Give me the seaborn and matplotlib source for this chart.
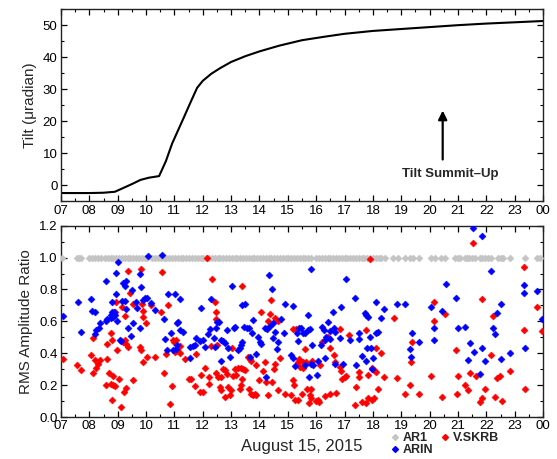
import numpy as np
import pandas as pd
import matplotlib
matplotlib.use("Agg")
import matplotlib.pyplot as plt
from matplotlib.ticker import MultipleLocator, FixedLocator
from matplotlib.lines import Line2D
import seaborn as sns

# ---- tilt record (hours of August 15, 2015; 24 = midnight) ----
tilt_hour = [7.0, 8.0, 8.5, 8.9, 9.2, 9.5, 9.8, 10.1, 10.46, 10.7, 10.92, 11.3,
             11.6, 11.8, 12.0, 12.3, 12.6, 13.0, 13.5, 14.0, 14.7, 15.5, 16.3,
             17.0, 18.0, 19.0, 20.0, 21.0, 22.0, 23.0, 24.0]
tilt_value = [-2.5, -2.5, -2.4, -2.1, -0.9, 0.3, 1.6, 2.3, 2.8, 7.5, 13.0, 20.5,
              26.5, 30.4, 32.6, 34.8, 36.5, 38.5, 40.3, 41.8, 43.6, 45.3, 46.4,
              47.3, 48.2, 48.8, 49.4, 50.0, 50.5, 50.9, 51.3]

# ---- RMS amplitude ratios, reference station AR1 ----
ar1_hour = [7.05, 7.55, 7.62, 7.70,
            8.00, 8.10, 8.20, 8.30, 8.40,
            8.55, 8.65, 8.75, 8.85, 8.95, 9.05, 9.15, 9.25, 9.35, 9.45, 9.55,
            9.65, 9.75, 9.85, 9.95, 10.05,
            10.22, 10.32, 10.42, 10.52, 10.62, 10.72, 10.82, 10.92, 11.02, 11.12,
            11.22, 11.32, 11.42, 11.52, 11.62, 11.72, 11.82, 11.92, 12.02, 12.12,
            12.22, 12.32, 12.42, 12.52, 12.62, 12.72, 12.82, 12.92, 13.02, 13.12,
            13.22, 13.32, 13.42, 13.52, 13.62, 13.72, 13.82, 13.92, 14.02, 14.12,
            14.22, 14.32, 14.42, 14.52, 14.62, 14.72, 14.82, 14.92, 15.02, 15.12,
            15.22, 15.32, 15.42, 15.52, 15.62, 15.72, 15.82,
            16.00, 16.10, 16.20, 16.30, 16.40, 16.50, 16.60, 16.70, 16.80, 16.90,
            17.00, 17.10, 17.18,
            17.30, 17.40, 17.50, 17.60, 17.70, 17.80, 17.90, 18.00, 18.10, 18.20,
            18.30, 18.42,
            18.71, 18.88, 19.12, 19.30, 19.42, 19.62,
            20.06, 20.20, 20.41, 20.53, 20.90, 21.00, 21.06, 21.24, 21.32, 21.40,
            21.50, 21.60, 21.77, 21.85, 21.95, 22.05, 22.18, 22.40, 22.50, 22.60,
            22.83, 23.36, 23.80, 23.90]
ar1_ratio = [1.0] * len(ar1_hour)

# ---- station V.SKRB ----
skrb_hour = [7.07, 7.58, 7.69, 8.12, 8.06, 8.21, 8.36, 8.30, 8.25, 8.12, 8.63, 8.63,
             8.77, 8.80, 8.69, 8.58, 8.75, 8.83, 8.92, 8.85, 9.03, 8.81, 9.13, 9.21,
             9.30, 8.98, 8.89, 8.95, 9.38, 9.45, 9.16, 9.25, 9.27, 9.30, 9.19, 9.36,
             9.54, 9.55, 9.83, 9.86, 9.89, 9.89, 9.99, 9.78, 9.83, 9.89, 10.03, 10.30,
             10.19, 10.56, 10.52, 10.63, 10.90, 10.85, 10.72, 10.76, 10.95, 11.04,
             10.98, 11.10, 11.18, 11.02, 11.18, 11.36, 11.50, 11.60, 11.71, 11.77,
             11.93, 11.89, 12.01, 12.09, 12.16, 12.22, 12.21, 12.28, 12.34, 12.42,
             12.46, 12.48, 12.50, 12.48, 12.54, 12.63, 12.60, 12.66, 12.77, 12.71,
             12.77, 12.86, 12.89, 12.95, 13.01, 13.03, 13.07, 13.15, 13.18, 13.24,
             13.34, 13.42, 13.48, 13.40, 13.36, 13.30, 13.40, 13.60, 13.65, 13.69,
             13.62, 13.69, 13.77, 13.83, 13.89, 13.89, 13.97, 14.04, 14.12, 14.21,
             14.24, 14.30, 14.30, 14.36, 14.42, 14.44, 14.51, 14.56, 14.54, 14.65,
             14.71, 14.65, 14.89, 15.12, 15.18, 15.22, 15.24, 15.36, 15.18, 15.30,
             15.38, 17.89, 18.73, 15.62, 16.21, 16.40, 16.83, 17.16, 17.75, 16.50,
             16.63, 18.12, 18.30, 19.38, 19.36, 15.36, 15.54, 15.42, 15.54, 15.65,
             15.85, 16.15, 16.65, 16.83, 16.89, 16.91, 17.00, 17.06, 17.50, 17.50,
             17.83, 17.95, 18.04, 18.12, 18.39, 18.85, 18.18, 17.42, 15.50, 15.69,
             15.83, 15.77, 15.83, 16.01, 16.07, 15.74, 16.09, 16.30, 16.48, 16.71,
             17.38, 17.62, 17.77, 17.83, 17.97, 18.04, 19.12, 19.30, 19.62, 21.53,
             23.33, 20.16, 21.86, 20.53, 20.15, 22.24, 23.80, 23.31, 23.97, 20.92,
             22.16, 20.06, 21.00, 21.44, 21.62, 22.39, 22.49, 22.83, 21.26, 21.36,
             21.95, 23.38, 20.42, 20.97, 21.83, 21.78, 22.32, 22.56]
skrb_ratio = [0.365, 0.329, 0.296, 0.497, 0.388, 0.356, 0.356, 0.335, 0.308, 0.279, 0.363, 0.461,
              0.530, 0.482, 0.273, 0.200, 0.210, 0.203, 0.193, 0.258, 0.237, 0.105, 0.063, 0.157,
              0.182, 0.423, 0.656, 0.723, 0.916, 0.776, 0.692, 0.635, 0.482, 0.461, 0.468, 0.440,
              0.709, 0.230, 0.929, 0.707, 0.665, 0.629, 0.587, 0.440, 0.423, 0.342, 0.377, 0.377,
              0.702, 0.912, 0.656, 0.279, 0.193, 0.080, 0.398, 0.704, 0.482, 0.482,
              0.468, 0.420, 0.448, 0.410, 0.400, 0.363, 0.241, 0.241, 0.195, 0.396,
              0.266, 0.157, 0.157, 0.310, 0.996, 0.252, 0.205, 0.444, 0.866, 0.723,
              0.656, 0.614, 0.451, 0.279, 0.252, 0.252, 0.189, 0.168, 0.128, 0.304,
              0.293, 0.272, 0.189, 0.136, 0.168, 0.430, 0.258, 0.304, 0.266, 0.308,
              0.308, 0.304, 0.293, 0.241, 0.199, 0.178, 0.824, 0.377, 0.363, 0.350,
              0.178, 0.143, 0.136, 0.147, 0.140, 0.325, 0.230, 0.656, 0.287, 0.346,
              0.220, 0.136, 0.604, 0.644, 0.734, 0.220, 0.304, 0.330, 0.618, 0.602,
              0.367, 0.168, 0.147, 0.136, 0.230, 0.200, 0.105, 0.105, 0.551, 0.551,
              0.363, 0.992, 0.618, 0.426, 0.468, 0.503, 0.551, 0.514, 0.543, 0.430,
              0.392, 0.434, 0.403, 0.468, 0.342, 0.346, 0.342, 0.312, 0.308, 0.346,
              0.350, 0.329, 0.346, 0.312, 0.287, 0.241, 0.252, 0.258, 0.283, 0.252,
              0.266, 0.308, 0.294, 0.283, 0.252, 0.247, 0.178, 0.189, 0.147, 0.178,
              0.178, 0.136, 0.119, 0.099, 0.105, 0.090, 0.094, 0.132, 0.147, 0.151,
              0.078, 0.094, 0.088, 0.119, 0.105, 0.119, 0.147, 0.203, 0.147, 1.094,
              0.943, 0.723, 0.738, 0.644, 0.602, 0.635, 0.692, 0.545, 0.541, 0.423,
              0.392, 0.258, 0.258, 0.277, 0.258, 0.247, 0.258, 0.287, 0.199, 0.168,
              0.178, 0.178, 0.128, 0.143, 0.119, 0.094, 0.124, 0.100]

# ---- station ARIN ----
arin_hour = [7.07, 7.60, 7.69, 8.07, 8.10, 8.21, 8.19, 8.25, 8.37, 8.35, 8.58, 8.60,
             8.63, 8.75, 8.80, 8.83, 8.86, 8.78, 8.84, 8.90, 8.81, 8.95, 9.01, 8.95,
             8.96, 9.07, 9.13, 9.16, 9.25, 9.20, 9.30, 9.25, 9.29, 9.35, 9.46, 9.50,
             9.64, 9.68, 9.53, 9.79, 9.78, 9.83, 9.89, 9.98, 10.02, 10.07, 10.19, 10.32,
             10.56, 10.63, 10.68, 10.74, 10.77, 11.03, 11.20, 11.08, 11.13, 10.87, 10.95,
             11.04, 11.10, 11.20, 11.30, 11.54, 11.56, 11.66, 11.71, 11.77, 11.93, 11.90,
             12.01, 12.07, 12.18, 12.24, 12.30, 12.40, 12.42, 12.46, 12.51, 12.58, 12.63,
             12.71, 12.66, 12.77, 12.95, 12.89, 12.86, 13.03, 13.10, 13.15, 13.24, 13.30,
             13.35, 13.38, 13.38, 13.48, 13.45, 13.55, 13.62, 13.65, 13.77, 13.74, 13.89,
             13.95, 14.01, 14.04, 14.21, 14.28, 14.36, 14.24, 14.33, 14.45, 14.48, 14.54,
             14.48, 14.60, 14.65, 14.75, 14.87, 14.91, 15.18, 15.12, 15.18, 15.24, 15.32,
             15.36, 15.81, 17.06, 17.38, 18.12, 18.39, 18.84, 19.12, 16.58, 16.89, 15.71,
             17.71, 17.77, 17.83, 18.30, 16.42, 16.21, 16.28, 15.40, 15.48, 15.54, 15.62,
             15.71, 15.78, 16.36, 16.49, 16.63, 16.65, 16.48, 16.83, 17.18, 17.50, 17.50,
             17.89, 18.12, 18.18, 15.85, 16.16, 16.30, 16.32, 16.07, 15.83, 15.60, 15.89,
             15.74, 16.04, 16.65, 16.95, 17.42, 17.63, 17.77, 17.80, 17.92, 18.00, 17.97,
             19.30, 19.33, 19.38, 19.62, 21.53, 21.85, 22.16, 20.56, 20.92, 23.33, 23.33,
             23.80, 20.06, 20.42, 22.50, 22.39, 23.97, 20.16, 21.00, 21.26, 22.24, 22.32,
             20.15, 21.44, 21.83, 21.57, 21.36, 21.95, 22.53, 22.83, 23.38, 21.78]
arin_ratio = [0.633, 0.723, 0.535, 0.740, 0.665, 0.656, 0.520, 0.545, 0.590, 0.560, 0.853, 0.600,
              0.614, 0.640, 0.660, 0.640, 0.660, 0.620, 0.630, 0.640, 0.720, 0.905, 0.975, 0.770,
              0.600, 0.480, 0.478, 0.730, 0.727, 0.840, 0.850, 0.820, 0.677, 0.560, 0.510, 0.797,
              0.720, 0.685, 0.590, 0.897, 0.556, 0.818, 0.734, 0.744, 0.748, 1.010, 0.713, 0.670,
              1.017, 0.614, 0.488, 0.423, 0.770, 0.770, 0.738, 0.591, 0.597, 0.530, 0.421,
              0.426, 0.450, 0.545, 0.535, 0.371, 0.440, 0.447, 0.450, 0.497, 0.681, 0.476,
              0.480, 0.438, 0.522, 0.551, 0.740, 0.493, 0.440, 0.556, 0.593, 0.597, 0.482,
              0.476, 0.350, 0.467, 0.377, 0.430, 0.545, 0.822, 0.556, 0.566, 0.419, 0.430,
              0.450, 0.472, 0.702, 0.709, 0.566, 0.556, 0.560, 0.377, 0.608, 0.524, 0.398,
              0.503, 0.472, 0.455, 0.560, 0.549, 0.572, 0.252, 0.891, 0.800, 0.587, 0.535,
              0.493, 0.426, 0.472, 0.614, 0.524, 0.707, 0.694, 0.388, 0.367, 0.321, 0.526,
              0.476, 0.929, 0.866, 0.744, 0.723, 0.675, 0.707, 0.709, 0.660, 0.692, 0.639,
              0.650, 0.639, 0.629, 0.618, 0.597, 0.566, 0.545, 0.556, 0.560, 0.524, 0.528,
              0.545, 0.549, 0.503, 0.539, 0.556, 0.535, 0.488, 0.497, 0.486, 0.528, 0.488,
              0.503, 0.528, 0.532, 0.450, 0.450, 0.482, 0.367, 0.350, 0.335, 0.329, 0.329,
              0.252, 0.262, 0.335, 0.333, 0.325, 0.381, 0.350, 0.430, 0.430, 0.367, 0.304,
              0.426, 0.377, 0.524, 0.468, 1.185, 1.138, 0.916, 0.834, 0.748, 0.828, 0.776,
              0.790, 0.692, 0.667, 0.707, 0.654, 0.614, 0.556, 0.560, 0.562, 0.556, 0.520,
              0.482, 0.465, 0.430, 0.409, 0.356, 0.350, 0.363, 0.403, 0.430, 0.272]

hour_ticks = list(range(7, 25))
hour_labels = ["07", "08", "09", "10", "11", "12", "13", "14", "15", "16", "17",
               "18", "19", "20", "21", "22", "23", "00"]

station_order = ["AR1", "V.SKRB", "ARIN"]
station_colors = {"AR1": "#c4c4c4", "V.SKRB": "#ff0000", "ARIN": "#0000ff"}

ratios = pd.concat([
    pd.DataFrame({"hour": ar1_hour, "ratio": ar1_ratio, "station": "AR1"}),
    pd.DataFrame({"hour": skrb_hour, "ratio": skrb_ratio, "station": "V.SKRB"}),
    pd.DataFrame({"hour": arin_hour, "ratio": arin_ratio, "station": "ARIN"}),
], ignore_index=True)
tilt = pd.DataFrame({"hour": tilt_hour, "tilt": tilt_value})

sns.set_style("ticks")
plt.rcParams["font.family"] = ["Liberation Sans", "DejaVu Sans"]
plt.rcParams["axes.linewidth"] = 1.0

fig = plt.figure(figsize=(5.57, 4.59), dpi=100)
ax1 = fig.add_axes([0.1095, 0.562, 0.8655, 0.418])
ax2 = fig.add_axes([0.1095, 0.0915, 0.8655, 0.4168])

# upper panel: tilt
sns.lineplot(data=tilt, x="hour", y="tilt", ax=ax1, color="black", lw=1.5,
             sort=False, estimator=None)
ax1.set_ylim(-5, 55)
ax1.yaxis.set_major_locator(MultipleLocator(10))
ax1.yaxis.set_minor_locator(MultipleLocator(5))
ax1.set_ylabel("Tilt (\u03bcradian)", fontsize=11, labelpad=4)
ax1.set_xlabel("")
ax1.annotate("", xy=(20.46, 23.3), xytext=(20.46, 8.0),
             arrowprops=dict(arrowstyle="-|>", color="black", lw=1.6,
                             mutation_scale=13, shrinkA=0, shrinkB=0))
ax1.text(20.72, 3.4, "Tilt Summit\u2013Up", ha="center", va="center",
         fontsize=9.5, fontweight="bold")

# lower panel: amplitude ratios
for st in station_order:
    sns.scatterplot(data=ratios[ratios["station"] == st], x="hour", y="ratio",
                    ax=ax2, color=station_colors[st], marker="D", s=13,
                    linewidth=0.3, edgecolor=station_colors[st], legend=False,
                    zorder=3)
ax2.set_ylim(0, 1.2)
ax2.yaxis.set_major_locator(MultipleLocator(0.2))
ax2.yaxis.set_minor_locator(MultipleLocator(0.1))
ax2.yaxis.set_major_formatter(matplotlib.ticker.FormatStrFormatter("%.1f"))
ax2.set_ylabel("RMS Amplitude Ratio", fontsize=11, labelpad=4)
ax2.set_xlabel("August 15, 2015", fontsize=12, labelpad=5)

for ax in (ax1, ax2):
    ax.set_xlim(7, 24)
    ax.xaxis.set_major_locator(FixedLocator(hour_ticks))
    ax.set_xticklabels(hour_labels)
    ax.xaxis.set_minor_locator(MultipleLocator(0.5))
    ax.tick_params(which="both", direction="in", top=True, right=True,
                   labelsize=9.5, colors="black")
    ax.tick_params(which="major", length=4.5, width=0.9, pad=2.5)
    ax.tick_params(which="minor", length=2.5, width=0.8)
    for sp in ax.spines.values():
        sp.set_color("#222222")
        sp.set_linewidth(1.0)

handles = [Line2D([], [], marker="D", linestyle="none", markersize=3,
                  color=station_colors[s]) for s in ["AR1", "ARIN", "V.SKRB"]]
fig.legend(handles, ["AR1", "ARIN", "V.SKRB"], loc="upper left",
           bbox_to_anchor=(0.702, 0.058), ncol=2, frameon=False,
           prop={"size": 9, "weight": "bold"}, handlelength=0.6,
           handletextpad=0.3, columnspacing=0.7, labelspacing=0.0,
           borderpad=0, borderaxespad=0)

fig.savefig("out.png", dpi=100)
